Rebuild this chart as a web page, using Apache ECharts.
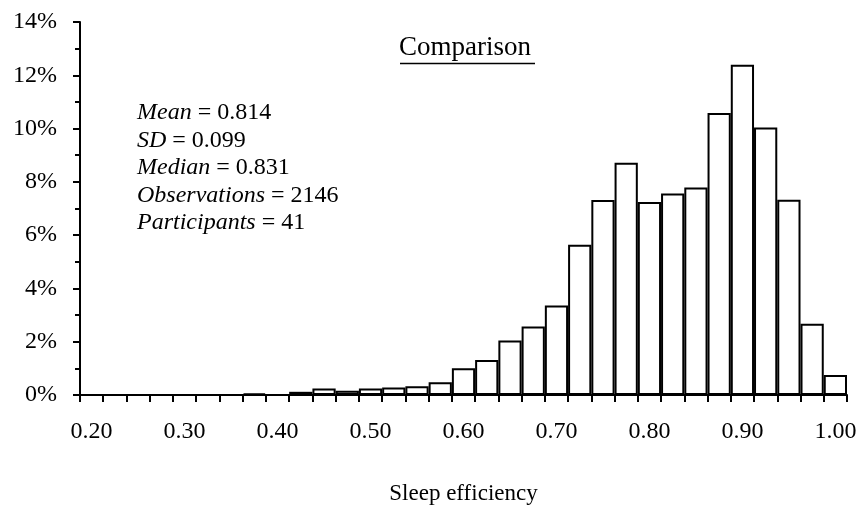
<!DOCTYPE html>
<html>
<head>
<meta charset="utf-8">
<script src="https://cdn.jsdelivr.net/npm/echarts@6/dist/echarts.min.js"></script>
<style>html,body{margin:0;padding:0;background:#fff;}#c{width:861px;height:510px;}</style>
</head>
<body>
<div id="c"></div>
<script>
// Bin labels (sleep efficiency), step 0.025
const bins = ['0.200','0.225','0.250','0.275','0.300','0.325','0.350','0.375','0.400','0.425','0.450','0.475',
  '0.500','0.525','0.550','0.575','0.600','0.625','0.650','0.675','0.700','0.725','0.750','0.775',
  '0.800','0.825','0.850','0.875','0.900','0.925','0.950','0.975','1.000'];
// Percentage of observations per bin
const percents = [0,0,0,0,0,0,0,0.06,0,0.12,0.24,0.16,
  0.24,0.28,0.33,0.48,1.00,1.31,2.05,2.57,3.36,5.64,7.32,8.72,
  7.24,7.56,7.79,10.58,12.40,10.04,7.33,2.67,0.75];
const yTicks = [0,2,4,6,8,10,12,14];
const titleText = 'Comparison';
const statNames = ['Mean','SD','Median','Observations','Participants'];
const statValues = ['0.814','0.099','0.831','2146','41'];
const xName = 'Sleep efficiency';

const FONT = '"Liberation Serif","Times New Roman",serif';
const chart = echarts.init(document.getElementById('c'), null, {renderer:'canvas'});
const statText = statNames.map((n,i)=>'{i|'+n+'}{n| = '+statValues[i]+'}').join('\n');
chart.setOption({
  animation:false,
  backgroundColor:'#fff',
  grid:{left:80, right:14, top:22, bottom:102, containLabel:false},
  xAxis:{
    type:'category', data:bins, boundaryGap:true,
    name:xName, nameLocation:'middle', nameGap:87,
    nameTextStyle:{fontFamily:FONT, fontSize:23, color:'#000'},
    axisLine:{lineStyle:{color:'#000', width:2}},
    axisTick:{show:true, interval:0, length:7, inside:false, lineStyle:{color:'#000', width:2}},
    axisLabel:{interval:3, margin:25, fontFamily:FONT, fontSize:24, color:'#000',
      formatter:v=>Number(v).toFixed(2)}
  },
  yAxis:{
    type:'value', min:yTicks[0], max:yTicks[yTicks.length-1], interval:2,
    axisLine:{show:true, lineStyle:{color:'#000', width:2}},
    axisTick:{show:true, length:7, lineStyle:{color:'#000', width:2}},
    minorTick:{show:true, splitNumber:2, length:5, lineStyle:{color:'#000', width:2}},
    splitLine:{show:false},
    axisLabel:{margin:23, fontFamily:FONT, fontSize:24, color:'#000', formatter:'{value}%'}
  },
  series:[{
    type:'bar', data:percents, barCategoryGap:'0%',
    itemStyle:{color:'#fff', borderColor:'#000', borderWidth:2},
    silent:true
  }],
  graphic:[
    {type:'text', left:399, top:34, style:{text:titleText, font:'27px '+FONT, fill:'#000'}},
    {type:'line', shape:{x1:400, y1:63.5, x2:535, y2:63.5}, style:{stroke:'#000', lineWidth:1.5}},
    {type:'text', left:137, top:99, style:{
      text:statText, fill:'#000', lineHeight:27.5,
      rich:{
        i:{fontFamily:FONT, fontSize:24, fontStyle:'italic', lineHeight:27.5, fill:'#000'},
        n:{fontFamily:FONT, fontSize:24, lineHeight:27.5, fill:'#000'}
      }
    }}
  ]
});
</script>
</body>
</html>
